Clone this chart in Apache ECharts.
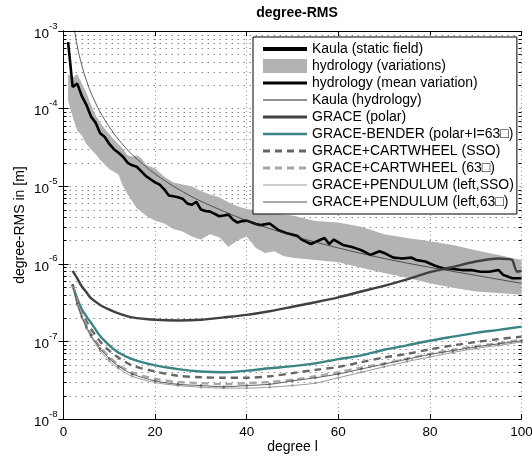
<!DOCTYPE html>
<html><head><meta charset="utf-8">
<script src="https://cdn.jsdelivr.net/npm/echarts@6/dist/echarts.min.js"></script>
<style>html,body{margin:0;padding:0;background:#fff}#c{width:532px;height:456px}</style>
</head><body><div id="c"></div>
<script>
// ---- data: [degree l, degree-RMS in m] ----
const kaulaStatic = []; // lies above the plotted range (legend only)
const hydroUpper = [[1,2.8e-4],[2,2.5e-4],[3,2.8e-4],[4,2.1e-4],[5,1.6e-4],[6,1.12e-4],[7,8.3e-5],[8,6.6e-5],[9,5.5e-5],[10,4.7e-5],[11,4.0e-5],[12,3.5e-5],[13,3.0e-5],[14,2.5e-5],[15,2.4e-5],[16,2.5e-5],[17,2.3e-5],[18,1.9e-5],[19,1.78e-5],[20,1.7e-5],[22,1.32e-5],[24,1.12e-5],[26,1.05e-5],[28,1.0e-5],[30,8.7e-6],[32,7.8e-6],[34,7.2e-6],[36,6.2e-6],[38,5.5e-6],[40,5.1e-6],[42,4.9e-6],[44,4.7e-6],[46,4.4e-6],[50,4.2e-6],[55,3.55e-6],[60,3.4e-6],[65,3.0e-6],[70,2.4e-6],[75,2.15e-6],[80,1.95e-6],[85,1.75e-6],[90,1.5e-6],[95,1.3e-6],[100,1.12e-6]];
const hydroLower = [[1,1.26e-4],[2,7.9e-5],[3,5.2e-5],[4,4.5e-5],[5,3.5e-5],[6,3.0e-5],[7,2.6e-5],[8,2.2e-5],[9,1.9e-5],[10,1.66e-5],[12,1.41e-5],[13,1.0e-5],[14,7.9e-6],[16,5.2e-6],[18,4.2e-6],[20,3.6e-6],[22,3.3e-6],[24,2.8e-6],[26,2.6e-6],[28,2.25e-6],[30,2.05e-6],[32,2.4e-6],[34,2.2e-6],[36,1.66e-6],[38,2.0e-6],[40,2.25e-6],[42,1.6e-6],[44,1.38e-6],[46,1.45e-6],[48,1.26e-6],[50,1.2e-6],[55,1.12e-6],[60,1.05e-6],[65,8.9e-7],[70,7.6e-7],[75,6.6e-7],[80,5.6e-7],[85,4.9e-7],[90,4.4e-7],[95,4.2e-7],[100,4.0e-7]];
const hydroMean = [[1,7.2e-4],[2,1.9e-4],[3,2.1e-4],[4,1.45e-4],[5,1.12e-4],[6,7.9e-5],[7,6.6e-5],[8,4.8e-5],[9,4.3e-5],[10,3.5e-5],[11,3.0e-5],[12,2.7e-5],[13,2.4e-5],[14,2.0e-5],[15,1.86e-5],[16,1.78e-5],[17,1.55e-5],[18,1.35e-5],[19,1.23e-5],[20,1.12e-5],[21,1.05e-5],[22,9.1e-6],[23,7.6e-6],[24,7.4e-6],[25,7.2e-6],[26,6.9e-6],[27,6.0e-6],[28,5.75e-6],[29,6.3e-6],[30,5.0e-6],[31,4.8e-6],[32,4.7e-6],[33,4.4e-6],[34,4.1e-6],[35,4.2e-6],[36,4.3e-6],[37,3.7e-6],[38,3.4e-6],[39,3.55e-6],[40,3.6e-6],[42,3.25e-6],[43,3.15e-6],[45,3.3e-6],[47,2.7e-6],[49,2.45e-6],[51,2.3e-6],[52,2.05e-6],[54,1.8e-6],[57,2.15e-6],[58,1.8e-6],[59,2.05e-6],[61,1.75e-6],[63,1.65e-6],[65,1.5e-6],[67,1.3e-6],[69,1.45e-6],[70,1.38e-6],[72,1.2e-6],[74,1.17e-6],[76,1.2e-6],[77,1.12e-6],[79,1.07e-6],[81,9.5e-7],[83,8.7e-7],[84,8.7e-7],[87,8.3e-7],[89,8.3e-7],[91,7.9e-7],[93,7.9e-7],[95,8.3e-7],[96,7.2e-7],[98,6.5e-7],[100,6.5e-7]];
const kaulaHydro = [[2,1.44e-3],[3,6.4e-4],[4,3.6e-4],[5,2.3e-4],[6,1.6e-4],[7,1.18e-4],[8,9.0e-5],[10,5.8e-5],[12,4.0e-5],[15,2.55e-5],[20,1.44e-5],[25,9.2e-6],[30,6.4e-6],[40,3.6e-6],[50,2.3e-6],[60,1.6e-6],[70,1.17e-6],[80,9.0e-7],[90,7.1e-7],[100,5.6e-7]];
const gracePolar = [[2,8.1e-7],[3,6.5e-7],[4,5.1e-7],[5,4.3e-7],[6,3.6e-7],[8,2.95e-7],[10,2.57e-7],[12,2.3e-7],[15,2.04e-7],[20,1.9e-7],[25,1.86e-7],[30,1.9e-7],[35,2.04e-7],[40,2.2e-7],[45,2.45e-7],[50,2.8e-7],[55,3.2e-7],[60,3.7e-7],[65,4.4e-7],[70,5.2e-7],[75,6.3e-7],[80,7.8e-7],[85,9.1e-7],[90,1.07e-6],[95,1.17e-6],[97,1.15e-6],[98,1.12e-6],[99,7.9e-7],[100,8.1e-7]];
const degreesG = [2,3,4,5,6,8,10,12,15,20,25,30,35,40,45,50,55,60,65,70,75,80,85,90,95,100];
const bender = [5.4e-7,3.55e-7,2.6e-7,2.1e-7,1.74e-7,1.17e-7,8.9e-8,7.2e-8,5.9e-8,4.9e-8,4.4e-8,4.1e-8,4.0e-8,4.2e-8,4.5e-8,4.8e-8,5.2e-8,5.9e-8,6.6e-8,7.8e-8,8.9e-8,1.02e-7,1.15e-7,1.29e-7,1.41e-7,1.55e-7];
const cartSSO = [5.4e-7,3.4e-7,2.4e-7,1.82e-7,1.45e-7,1.0e-7,7.6e-8,6.2e-8,4.9e-8,4.1e-8,3.6e-8,3.45e-8,3.4e-8,3.4e-8,3.55e-8,3.9e-8,4.3e-8,4.7e-8,5.4e-8,6.2e-8,6.9e-8,7.9e-8,8.9e-8,9.8e-8,1.07e-7,1.15e-7];
const cart63 = [5.3e-7,3.2e-7,2.2e-7,1.62e-7,1.26e-7,8.5e-8,6.3e-8,5.0e-8,4.0e-8,3.3e-8,3.0e-8,2.9e-8,2.8e-8,2.9e-8,3.0e-8,3.2e-8,3.55e-8,4.0e-8,4.6e-8,5.2e-8,6.0e-8,6.9e-8,7.8e-8,8.7e-8,9.5e-8,1.05e-7];
const pendSSO = [5.1e-7,2.95e-7,2.0e-7,1.48e-7,1.15e-7,7.6e-8,5.6e-8,4.5e-8,3.55e-8,2.95e-8,2.7e-8,2.57e-8,2.5e-8,2.5e-8,2.57e-8,2.7e-8,2.9e-8,3.4e-8,4.0e-8,4.7e-8,5.5e-8,6.3e-8,7.2e-8,8.1e-8,8.9e-8,9.8e-8];
const pend63 = [5.3e-7,3.1e-7,2.1e-7,1.55e-7,1.2e-7,8.1e-8,6.0e-8,4.8e-8,3.8e-8,3.1e-8,2.8e-8,2.7e-8,2.6e-8,2.7e-8,2.8e-8,3.1e-8,3.4e-8,3.8e-8,4.4e-8,5.1e-8,5.9e-8,6.8e-8,7.6e-8,8.5e-8,9.3e-8,1.02e-7];
const legendNames = ['Kaula (static field)','hydrology (variations)','hydrology (mean variation)','Kaula (hydrology)','GRACE (polar)','GRACE-BENDER (polar+I=63\u25A1)','GRACE+CARTWHEEL (SSO)','GRACE+CARTWHEEL (63\u25A1)','GRACE+PENDULUM (left,SSO)','GRACE+PENDULUM (left,63\u25A1)'];
const xTicks = [0,20,40,60,80,100];

const pair = (vals) => degreesG.map((l,i)=>[l, vals[i]]);
const FONT = 'Liberation Sans, Arial, Helvetica, sans-serif';
const chart = echarts.init(document.getElementById('c'), null, {renderer:'canvas'});

function lineSeries(name, data, color, width, extra) {
  return Object.assign({
    type:'line', name, data, showSymbol:false, symbol:'none',
    lineStyle:{color, width}, itemStyle:{color}, z:3, animation:false, silent:true
  }, extra || {});
}
const legendLine = {
  'Kaula (static field)': {color:'#000', width:4},
  'hydrology (mean variation)': {color:'#000', width:3},
  'Kaula (hydrology)': {color:'#222', width:1},
  'GRACE (polar)': {color:'#404040', width:3},
  'GRACE-BENDER (polar+I=63\u25A1)': {color:'#3b8484', width:2.6},
  'GRACE+CARTWHEEL (SSO)': {color:'#666', width:3, type:[7,5]},
  'GRACE+CARTWHEEL (63\u25A1)': {color:'#a8a8a8', width:3, type:[7,5]},
  'GRACE+PENDULUM (left,SSO)': {color:'#999', width:1.2},
  'GRACE+PENDULUM (left,63\u25A1)': {color:'#555', width:1.2}
};

const option = {
  animation:false,
  backgroundColor:'#fff',
  title:{text:'degree-RMS', left:292, textAlign:'center', top:1,
    textStyle:{fontFamily:FONT, fontSize:14, fontWeight:'bold', color:'#000'}},
  grid:{left:63.5, right:10.5, top:31, bottom:37, show:false, outerBoundsMode:'none', containLabel:false},
  legend:{
    data: legendNames.map(n => n==='hydrology (variations)'
      ? {name:n, icon:'rect', itemStyle:{opacity:1, color:'#b3b3b3'}}
      : {name:n, lineStyle:legendLine[n]}),
    orient:'vertical', left:253, top:37, itemWidth:44, itemHeight:14, itemGap:3,
    padding:[5,3,5,8], backgroundColor:'#fff', borderColor:'#000', borderWidth:1,
    borderRadius:0, itemStyle:{opacity:0},
    textStyle:{fontFamily:FONT, fontSize:14, color:'#000'},
    selectedMode:false, z:10
  },
  xAxis:[
    {type:'value', min:0, max:100, interval:20, name:'degree l', nameLocation:'middle', nameGap:21,
     nameMoveOverlap:false,
     nameTextStyle:{fontFamily:FONT, fontSize:14, color:'#000'},
     axisLine:{lineStyle:{color:'#000', width:1}}, axisTick:{inside:true, length:5, lineStyle:{color:'#000'}},
     axisLabel:{fontFamily:FONT, fontSize:13.5, color:'#000', margin:6},
     splitLine:{show:true, lineStyle:{color:'#999', type:[1,3], width:1}}},
    {type:'value', min:0, max:100, interval:20, position:'top',
     axisLine:{lineStyle:{color:'#000'}}, axisTick:{inside:true, length:5, lineStyle:{color:'#000'}},
     axisLabel:{show:false}, splitLine:{show:false}}
  ],
  yAxis:[
    {type:'log', logBase:10, min:1e-8, max:1e-3, name:'degree-RMS in [m]', nameLocation:'middle', nameGap:36,
     nameMoveOverlap:false,
     nameTextStyle:{fontFamily:FONT, fontSize:14, color:'#000'},
     axisLine:{show:true, lineStyle:{color:'#000'}}, axisTick:{show:true, inside:true, length:5, lineStyle:{color:'#000'}},
     axisLabel:{margin:6, formatter:(v)=>'{b|10}{e|' + Math.round(Math.log10(v)) + '}',
       rich:{b:{fontFamily:FONT, fontSize:13.5, color:'#000', lineHeight:20, verticalAlign:'bottom'},
             e:{fontFamily:FONT, fontSize:9.5, color:'#000', lineHeight:20, verticalAlign:'top'}}},
     splitLine:{show:true, lineStyle:{color:'#888', type:[1.5,4.5], width:1}}},
    {type:'log', logBase:10, min:1e-8, max:1e-3, position:'right',
     axisLine:{show:true, lineStyle:{color:'#000'}}, axisTick:{show:true, inside:true, length:5, lineStyle:{color:'#000'}},
     axisLabel:{show:false}, splitLine:{show:false}}
  ],
  series:[
    { // minor log grid lines and minor ticks
      type:'custom', name:'_minor', silent:true, z:1, data:[[50,1e-6]],
      renderItem:(params, api) => {
        const children = [];
        const xl = api.coord([0,1e-8])[0], xr = api.coord([100,1e-8])[0];
        for (let d=-8; d<=-4; d++) for (let k=2; k<=9; k++) {
          const y = Math.round(api.coord([0, k*Math.pow(10,d)])[1]) + 0.5;
          children.push({type:'line', shape:{x1:xl, y1:y, x2:xr, y2:y}, style:{stroke:'#888', lineWidth:1, lineDash:[1.5,4.5]}});
          children.push({type:'line', shape:{x1:xl, y1:y, x2:xl+3, y2:y}, style:{stroke:'#000', lineWidth:1}});
          children.push({type:'line', shape:{x1:xr-3, y1:y, x2:xr, y2:y}, style:{stroke:'#000', lineWidth:1}});
        }
        return {type:'group', children};
      }
    },
    lineSeries(legendNames[0], kaulaStatic, '#000', 3.5),
    {
      type:'custom', name:legendNames[1], silent:true, z:2, data:[[50,1e-6]], itemStyle:{color:'#b3b3b3'},
      renderItem:(params, api) => {
        const pts = hydroUpper.map(d=>api.coord(d)).concat(hydroLower.slice().reverse().map(d=>api.coord(d)));
        return {type:'polygon', shape:{points:pts}, style:{fill:'#b3b3b3'}};
      }
    },
    lineSeries(legendNames[2], hydroMean, '#000', 2.6),
    lineSeries(legendNames[3], kaulaHydro, '#333', 0.8, {smooth:0.3}),
    lineSeries(legendNames[4], gracePolar, '#404040', 2.4, {smooth:0.2}),
    lineSeries(legendNames[5], pair(bender), '#3b8484', 2.4, {smooth:0.3}),
    lineSeries(legendNames[6], pair(cartSSO), '#666', 2.4, {smooth:0.3, lineStyle:{color:'#666', width:2.4, type:[7,5]}}),
    lineSeries(legendNames[7], pair(cart63), '#a8a8a8', 2.4, {smooth:0.3, lineStyle:{color:'#a8a8a8', width:2.4, type:[7,5]}}),
    lineSeries(legendNames[8], pair(pendSSO), '#9a9a9a', 1, {smooth:0.3, showSymbol:true, symbol:'circle', symbolSize:2.5}),
    lineSeries(legendNames[9], pair(pend63), '#5e5e5e', 1, {smooth:0.3, showSymbol:true, symbol:'circle', symbolSize:2.5})
  ]
};
chart.setOption(option);
</script></body></html>
